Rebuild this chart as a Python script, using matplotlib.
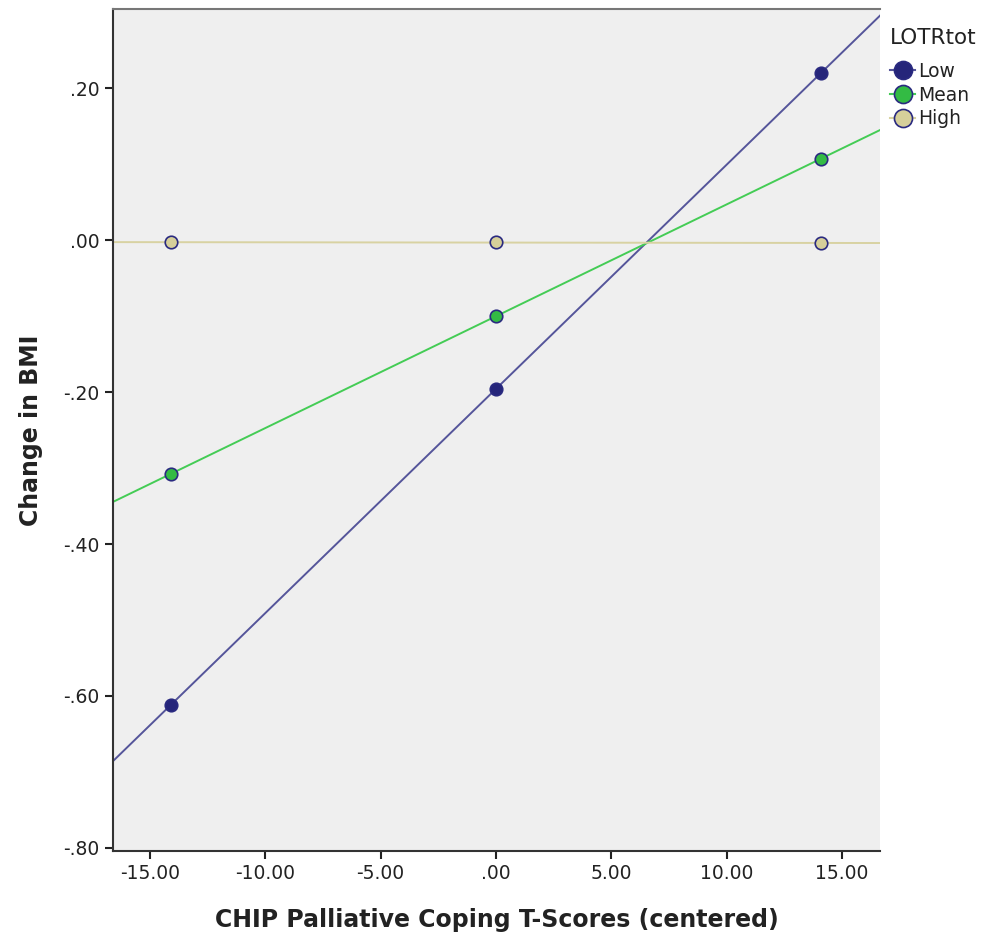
import matplotlib
matplotlib.use("Agg")
import matplotlib.pyplot as plt
from matplotlib.ticker import FuncFormatter
import numpy as np

# moderator levels (LOTRtot) and simple slopes points
x_points = [-14.1, 0.0, 14.1]
low_vals = [-0.612, -0.196, 0.220]
mean_vals = [-0.308, -0.100, 0.107]
high_vals = [-0.003, -0.003, -0.004]
levels = ["Low", "Mean", "High"]

x_ticks = [-15, -10, -5, 0, 5, 10, 15]
y_ticks = [-0.8, -0.6, -0.4, -0.2, 0.0, 0.2]

face_colors = ["#25257a", "#33bb44", "#d6cf9a"]
line_colors = ["#55559a", "#44cc55", "#d8d2a2"]
edge_color = "#2a2a80"

xlim = (-16.6, 16.65)
ylim = (-0.804, 0.304)


def fmt_tick(v, pos):
    s = "%.2f" % v
    if s.startswith("-0."):
        s = "-" + s[2:]
    elif s.startswith("0."):
        s = s[1:]
    return s


fig = plt.figure(figsize=(9.97, 9.39), dpi=100)
ax = fig.add_axes([0.1133, 0.0937, 0.7693, 0.8967])
ax.set_facecolor("#efefef")

xs = np.array(xlim)
for name, vals, fc, lc in zip(levels, [low_vals, mean_vals, high_vals], face_colors, line_colors):
    k, b = np.polyfit(x_points, vals, 1)
    ax.plot(xs, k * xs + b, color=lc, lw=1.4, zorder=2)
    ax.plot(x_points, vals, "o", ms=9, mfc=fc, mec=edge_color, mew=1.2, zorder=3)
    ax.plot([], [], "-o", color=lc, ms=13, mfc=fc, mec=edge_color, mew=1.2, label=name)

ax.set_xlim(xlim)
ax.set_ylim(ylim)
ax.set_xticks(x_ticks)
ax.set_yticks(y_ticks)
ax.xaxis.set_major_formatter(FuncFormatter(fmt_tick))
ax.yaxis.set_major_formatter(FuncFormatter(fmt_tick))
ax.tick_params(axis="both", labelsize=13.5, length=6, width=1.5, color="#222222", labelcolor="#222222")

ax.spines["right"].set_visible(False)
ax.spines["top"].set_color("#777777")
ax.spines["top"].set_linewidth(1.5)
ax.spines["left"].set_linewidth(1.5)
ax.spines["bottom"].set_linewidth(1.5)
ax.spines["left"].set_color("#333333")
ax.spines["bottom"].set_color("#333333")

ax.set_xlabel("CHIP Palliative Coping T-Scores (centered)", fontsize=17, fontweight="bold", color="#222222", labelpad=18)
ax.set_ylabel("Change in BMI", fontsize=17, fontweight="bold", color="#222222", labelpad=15)

leg = fig.legend(loc="upper left", bbox_to_anchor=(0.893, 0.970), title="LOTRtot", frameon=False,
                 fontsize=13.5, title_fontsize=15.5, handlelength=1.3, handletextpad=0.2,
                 labelspacing=0.25, borderaxespad=0, borderpad=0)
leg._legend_box.align = "left"
leg._legend_box.sep = 10
plt.setp(leg.get_title(), color="#222222")
for t in leg.get_texts():
    t.set_color("#222222")

fig.savefig("out.png", dpi=100)
